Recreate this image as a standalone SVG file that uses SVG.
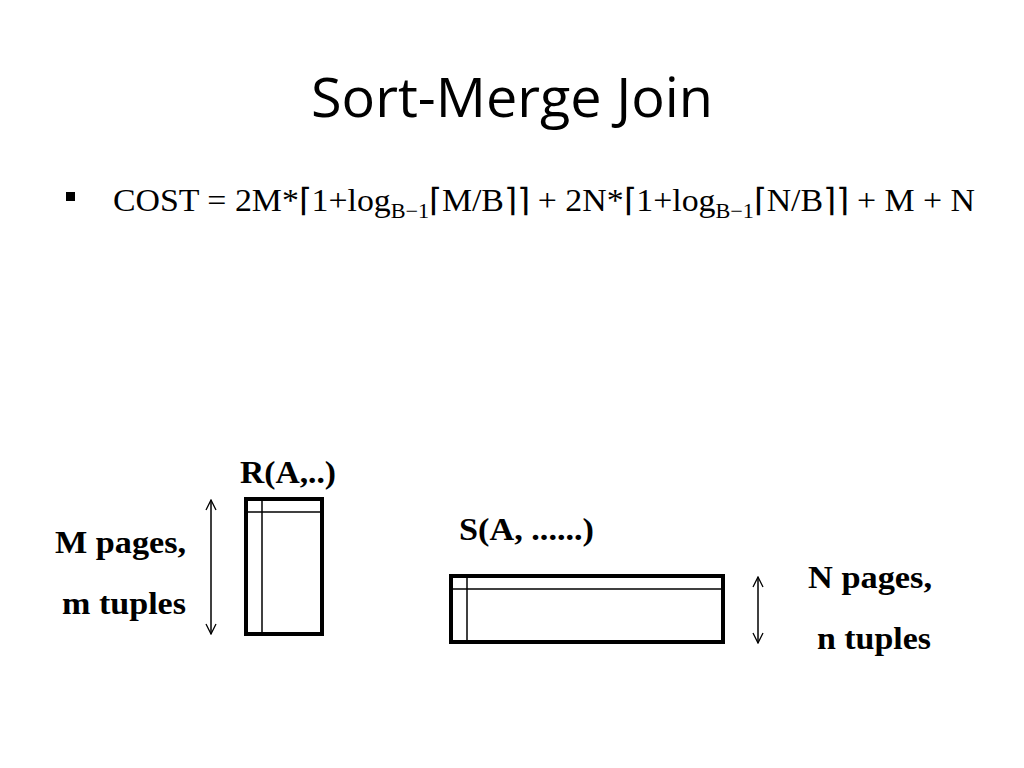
<svg xmlns="http://www.w3.org/2000/svg" width="1024" height="768" viewBox="0 0 1024 768">
<defs>
<style>
.title{font-family:"Open Sans","Liberation Sans",sans-serif;font-size:54px;fill:#000}
.f{font-family:"Liberation Serif",serif;font-size:32px;fill:#000}
.lb{font-family:"Liberation Serif",serif;font-size:32px;font-weight:bold;fill:#000}
.box{fill:#fff;stroke:#000;stroke-width:4}
.thin{stroke:#000;stroke-width:1.5;fill:none}
</style>
<marker id="ah" viewBox="0 0 12 12" refX="11" refY="6" markerWidth="12" markerHeight="12" markerUnits="userSpaceOnUse" orient="auto-start-reverse">
<path d="M1,1 L11,6 L1,11" fill="none" stroke="#000" stroke-width="1.3"/>
</marker>
</defs>
<rect width="1024" height="768" fill="#fff"/>
<text class="title" x="311" y="117" textLength="402" lengthAdjust="spacingAndGlyphs">Sort-Merge Join</text>
<rect x="66" y="192" width="9" height="9" fill="#000"/>
<text class="f" x="113" y="211" textLength="862" lengthAdjust="spacingAndGlyphs">COST = 2M*⌈1+log<tspan font-size="21" dy="7">B−1</tspan><tspan dy="-7">⌈M/B⌉⌉ + 2N*⌈1+log</tspan><tspan font-size="21" dy="7">B−1</tspan><tspan dy="-7">⌈N/B⌉⌉ + M + N</tspan></text>
<g id="R">
<rect class="box" x="246" y="499" width="76" height="135"/>
<line class="thin" x1="262" y1="499" x2="262" y2="634"/>
<line class="thin" x1="246" y1="512" x2="322" y2="512"/>
<text class="lb" x="240" y="483" textLength="96" lengthAdjust="spacingAndGlyphs">R(A,..)</text>
</g>
<g id="S">
<rect class="box" x="451" y="576" width="272" height="66"/>
<line class="thin" x1="467" y1="576" x2="467" y2="642"/>
<line class="thin" x1="451" y1="589" x2="723" y2="589"/>
<text class="lb" x="459" y="540" textLength="135" lengthAdjust="spacingAndGlyphs">S(A, ......)</text>
</g>
<g id="labels">
<text class="lb" x="55" y="553" textLength="131" lengthAdjust="spacingAndGlyphs">M pages,</text>
<text class="lb" x="62" y="614" textLength="124" lengthAdjust="spacingAndGlyphs">m tuples</text>
<text class="lb" x="808" y="588" textLength="124" lengthAdjust="spacingAndGlyphs">N pages,</text>
<text class="lb" x="817" y="649" textLength="114" lengthAdjust="spacingAndGlyphs">n tuples</text>
</g>
<g id="connectors">
<line class="thin" x1="211" y1="500" x2="211" y2="634" marker-start="url(#ah)" marker-end="url(#ah)"/>
<line class="thin" x1="758" y1="577" x2="758" y2="643" marker-start="url(#ah)" marker-end="url(#ah)"/>
</g>
</svg>
